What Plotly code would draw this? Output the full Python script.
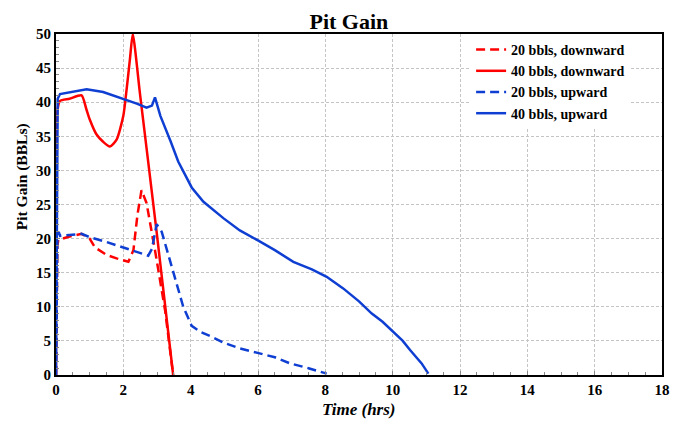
import plotly.graph_objects as go

# 20 bbls, downward
t_20d = [0.0, 0.04, 0.07, 0.4, 0.76, 1.0, 1.16, 1.5, 1.8, 2.15, 2.3, 2.42, 2.54, 2.69, 2.94, 3.24, 3.48]
v_20d = [0.0, 19.0, 19.8, 20.3, 20.7, 20.0, 18.7, 17.6, 17.1, 16.6, 18.3, 23.5, 27.1, 25.2, 18.3, 9.5, 0.0]

# 40 bbls, downward
t_40d = [0.0, 0.05, 0.12, 0.4, 0.76, 0.9, 1.0, 1.2, 1.4, 1.6, 1.8, 2.0, 2.1, 2.2, 2.28, 2.5, 3.0, 3.48]
v_40d = [0.0, 39.0, 40.2, 40.5, 41.0, 39.0, 37.5, 35.3, 34.2, 33.5, 34.5, 38.0, 42.0, 46.5, 50.0, 41.0, 20.5, 0.0]

# 20 bbls, upward
t_20u = [0.0, 0.04, 0.08, 0.12, 0.76, 1.01, 1.5, 2.0, 2.4, 2.74, 2.85, 2.99, 3.14, 3.3, 3.48, 3.78, 4.03, 4.3, 4.67, 5.0, 5.46, 6.01, 6.5, 6.95, 7.5, 8.04]
v_20u = [0.0, 20.0, 21.0, 20.4, 20.7, 20.2, 19.5, 18.7, 18.1, 17.5, 18.5, 22.1, 21.0, 18.2, 14.9, 10.0, 7.2, 6.3, 5.5, 4.7, 3.9, 3.2, 2.6, 1.7, 1.0, 0.2]

# 40 bbls, upward
t_40u = [0.0, 0.05, 0.12, 0.5, 0.91, 1.4, 2.0, 2.4, 2.69, 2.85, 2.94, 3.1, 3.4, 3.63, 4.03, 4.38, 4.97, 5.46, 6.01, 6.5, 7.05, 7.6, 8.04, 8.53, 9.0, 9.38, 9.7, 10.02, 10.3, 10.51, 10.86, 11.06]
v_40u = [0.0, 40.5, 41.2, 41.5, 41.9, 41.5, 40.5, 39.8, 39.2, 39.5, 40.7, 38.0, 34.3, 31.3, 27.5, 25.4, 23.0, 21.2, 19.7, 18.3, 16.6, 15.5, 14.4, 12.7, 10.8, 9.0, 7.8, 6.35, 5.0, 3.7, 1.7, 0.2]

x_ticks = [0, 2, 4, 6, 8, 10, 12, 14, 16, 18]
y_ticks = [0, 5, 10, 15, 20, 25, 30, 35, 40, 45, 50]

RED = "#ff0000"
BLUE = "#0f3fd2"
FONT = "Liberation Serif"

fig = go.Figure()
fig.add_trace(go.Scatter(x=t_20d, y=v_20d, mode="lines", name="20 bbls, downward",
                         line=dict(color=RED, width=2.5, dash="9px,5px")))
fig.add_trace(go.Scatter(x=t_40d, y=v_40d, mode="lines", name="40 bbls, downward",
                         line=dict(color=RED, width=2.5, shape="spline", smoothing=0.6)))
fig.add_trace(go.Scatter(x=t_20u, y=v_20u, mode="lines", name="20 bbls, upward",
                         line=dict(color=BLUE, width=2.5, dash="9px,5px")))
fig.add_trace(go.Scatter(x=t_40u, y=v_40u, mode="lines", name="40 bbls, upward",
                         line=dict(color=BLUE, width=2.5)))

axis_common = dict(
    showline=True, linecolor="black", linewidth=2, mirror=True,
    showgrid=True, gridcolor="#c4c4c4", griddash="3px,2px", gridwidth=1,
    zeroline=False, ticks="inside", ticklen=4, tickcolor="#888",
    tickfont=dict(family=FONT, size=15, color="black", weight="bold"),
    automargin=False,
)

fig.update_layout(
    width=675, height=415,
    paper_bgcolor="white", plot_bgcolor="white",
    margin=dict(l=48, r=21, t=26, b=48),
    title=dict(text="<b>Pit Gain</b>", x=0.505, xanchor="center", y=0.968, yanchor="middle",
               font=dict(family=FONT, size=22, color="black")),
    font=dict(family=FONT, color="black"),
    showlegend=True,
    legend=dict(x=0.685, y=1.0, xanchor="left", yanchor="top",
                bgcolor="white", borderwidth=0,
                font=dict(family=FONT, size=14, color="black", weight="bold"),
                tracegroupgap=0, itemwidth=30),
    xaxis=dict(range=[0, 18], tickvals=x_ticks, ticktext=[str(v) for v in x_ticks],
               minor=dict(dtick=0.5, ticks="inside", ticklen=3, tickcolor="#888", showgrid=False),
               **axis_common),
    yaxis=dict(range=[0, 50], tickvals=y_ticks, ticktext=[str(v) for v in y_ticks],
               minor=dict(dtick=1, ticks="inside", ticklen=3, tickcolor="#888", showgrid=False),
               **axis_common),
    annotations=[
        dict(text="<b><i>Time (hrs)</i></b>", xref="paper", yref="paper", x=0.5, y=0,
             xanchor="center", yanchor="middle", yshift=-34, showarrow=False,
             font=dict(family=FONT, size=17, color="black")),
        dict(text="<b>Pit Gain (BBLs)</b>", xref="paper", yref="paper", x=0, y=0.58,
             xanchor="center", yanchor="middle", xshift=-34, textangle=-90, showarrow=False,
             font=dict(family=FONT, size=15.5, color="black")),
    ],
)

fig.write_html("out.html")
